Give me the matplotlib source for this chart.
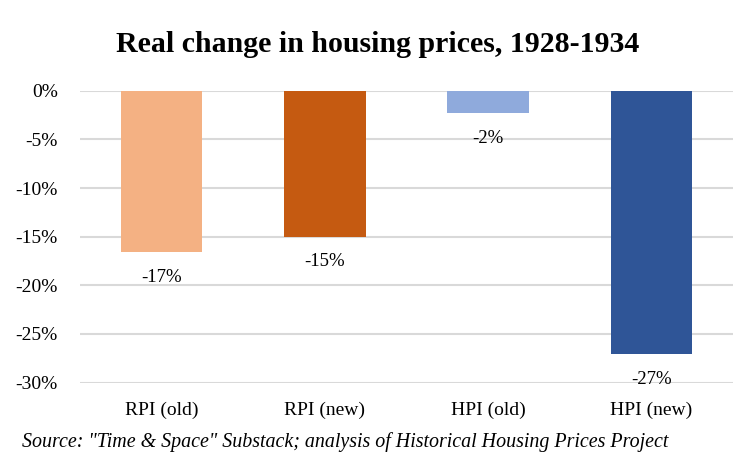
import numpy as np
from matplotlib import pyplot as plt
from matplotlib.ticker import FuncFormatter

plt.rc('font', family='Liberation Serif')

categories = ['RPI (old)', 'RPI (new)', 'HPI (old)', 'HPI (new)']
values = [-16.6, -15.0, -2.3, -27.1]
colors = ['#F4B183', '#C55A11', '#8FAADC', '#2F5597']

fig = plt.figure(figsize=(7.55, 4.66), dpi=100)
ax = fig.add_axes([0.106, 0.179, 0.865, 0.626])

x = np.arange(len(categories))
bars = ax.bar(x, values, width=0.5, color=colors, zorder=3)

for b, v in zip(bars, values):
    ax.annotate('{:.0f}%'.format(v), (b.get_x() + b.get_width() / 2, v),
                xytext=(0, -18), textcoords='offset points',
                ha='center', va='center', fontsize=13.5, color='#000000')

ax.set_xlim(-0.5, 3.5)
ax.set_ylim(-30, 0)
ax.set_yticks(np.arange(-30, 1, 5))
ax.yaxis.set_major_formatter(FuncFormatter(lambda v, p: '{:.0f}%'.format(v)))
ax.set_xticks(x)
ax.set_xticklabels(categories)
ax.grid(axis='y', color='#D9D9D9', linewidth=1.5, zorder=0)
for s in ax.spines.values():
    s.set_visible(False)
ax.tick_params(axis='both', length=0, labelsize=14)
ax.tick_params(axis='y', pad=16)
ax.tick_params(axis='x', pad=14)

fig.text(0.5, 0.905, 'Real change in housing prices, 1928-1934',
         ha='center', va='center', fontsize=21.5, fontweight='bold')
fig.text(0.029, 0.052, 'Source: "Time & Space" Substack; analysis of Historical Housing Prices Project',
         ha='left', va='center', fontsize=14.4, style='italic')

plt.savefig('out.png', dpi=100)
